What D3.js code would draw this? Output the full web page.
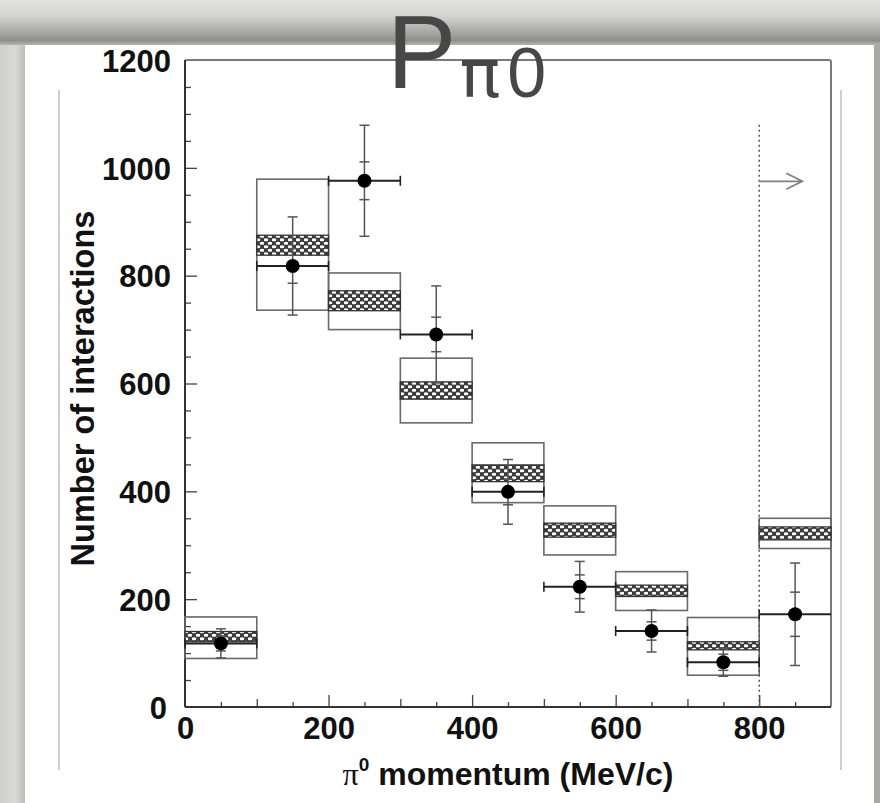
<!DOCTYPE html>
<html>
<head>
<meta charset="utf-8">
<script src="https://cdn.jsdelivr.net/npm/d3@7"></script>
<style>
  html, body { margin: 0; padding: 0; background: #d6d6d2; }
  svg { display: block; }
</style>
</head>
<body>
<svg id="chart" width="880" height="803"></svg>
<script>
// π0 momentum distribution: MC prediction (systematic box + statistical band) vs data
const binLow     = [0, 100, 200, 300, 400, 500, 600, 700, 800];
const binWidth   = 100;
const mcSysLow   = [90, 736, 700, 527, 379, 282, 179, 59, 294];
const mcSysHigh  = [167, 979, 805, 647, 490, 373, 251, 166, 350];
const mcStatLow  = [121, 838, 735, 571, 418, 315, 205, 106, 310];
const mcStatHigh = [140, 875, 772, 603, 449, 341, 226, 121, 334];
const dataValue  = [118, 818, 976, 691, 399, 223, 141, 83, 172];
const dataStat   = [14, 32, 35, 32, 24, 22, 17, 15, 41];
const dataTotal  = [27, 91, 103, 90, 60, 47, 39, 26, 95];
const xTickLabels = [0, 200, 400, 600, 800];
const yTickLabels = [0, 200, 400, 600, 800, 1000, 1200];
const cutMomentum = 800;
const cutLineTop = 1080;
const arrowLevel = 975;
const arrowEnd = 860;

const svg = d3.select("#chart");
const W = 880, H = 803;

// ---------- slide background ----------
const defs = svg.append("defs");
const topGrad = defs.append("linearGradient").attr("id", "topShade")
  .attr("x1", 0).attr("y1", 0).attr("x2", 0).attr("y2", 1);
[[0, "#e2e2de"], [0.35, "#d4d4d0"], [0.7, "#a9a9a6"], [0.9, "#8e8e8c"], [1, "#b5b5b2"]]
  .forEach(([o, c]) => topGrad.append("stop").attr("offset", o).attr("stop-color", c));
const sideGrad = defs.append("linearGradient").attr("id", "sideShade")
  .attr("x1", 0).attr("y1", 0).attr("x2", 1).attr("y2", 0);
[[0, "#cfcfcb"], [0.6, "#dadad6"], [1, "#bdbdb9"]]
  .forEach(([o, c]) => sideGrad.append("stop").attr("offset", o).attr("stop-color", c));

svg.append("rect").attr("width", W).attr("height", H).attr("fill", "#d6d6d2");
svg.append("rect").attr("x", 0).attr("y", 0).attr("width", 25).attr("height", H).attr("fill", "url(#sideShade)");
svg.append("rect").attr("x", 0).attr("y", 0).attr("width", W).attr("height", 45).attr("fill", "url(#topShade)");
svg.append("rect").attr("x", 25).attr("y", 45).attr("width", 849).attr("height", H - 45).attr("fill", "#ffffff");
svg.append("rect").attr("x", 874).attr("y", 45).attr("width", 6).attr("height", H - 45).attr("fill", "#a8a8a5");

// faint page border lines of the embedded figure
[59, 841].forEach(x => svg.append("line")
  .attr("x1", x).attr("x2", x).attr("y1", 90).attr("y2", 770)
  .attr("stroke", "#b0b0b0").attr("stroke-width", 1.2));

// ---------- scales ----------
const x = d3.scaleLinear().domain([0, 900]).range([185, 831]);
const y = d3.scaleLinear().domain([0, 1200]).range([707, 60]);

// hatched fill for the MC statistical band
const pat = defs.append("pattern").attr("id", "hatch")
  .attr("patternUnits", "userSpaceOnUse").attr("width", 8).attr("height", 7);
pat.append("rect").attr("width", 8).attr("height", 7).attr("fill", "#3a3a3a");
pat.append("ellipse").attr("cx", 2).attr("cy", 1.75).attr("rx", 2.4).attr("ry", 1.5).attr("fill", "#ffffff");
pat.append("ellipse").attr("cx", 6).attr("cy", 5.25).attr("rx", 2.4).attr("ry", 1.5).attr("fill", "#ffffff");

const plot = svg.append("g");

// frame
plot.append("rect")
  .attr("x", x(0)).attr("y", y(1200))
  .attr("width", x(900) - x(0)).attr("height", y(0) - y(1200))
  .attr("fill", "none").attr("stroke", "#7a7a7a").attr("stroke-width", 2).attr("rx", 2);

// axes with inward ticks
const fontAxis = "'Liberation Sans', Arial, Helvetica, sans-serif";
function tickAxis(axisFn, scale, values, len, transform) {
  const g = plot.append("g").attr("transform", transform)
    .call(axisFn(scale).tickValues(values).tickSize(-len).tickFormat(""));
  g.select(".domain").remove();
  g.selectAll(".tick line").attr("stroke", "#444").attr("stroke-width", 1.3);
  return g;
}
const x50 = d3.range(50, 900, 100);
const x100 = [100, 300, 500, 700];
const x200 = [200, 400, 600, 800];
tickAxis(d3.axisBottom, x, x50, 5, `translate(0,${y(0)})`);
tickAxis(d3.axisBottom, x, x100, 8, `translate(0,${y(0)})`);
tickAxis(d3.axisBottom, x, x200, 12, `translate(0,${y(0)})`);
const yMinor = d3.range(50, 1200, 50).filter(v => v % 200 !== 0);
tickAxis(d3.axisLeft, y, yMinor, 6, `translate(${x(0)},0)`);
tickAxis(d3.axisLeft, y, [200, 400, 600, 800, 1000], 12, `translate(${x(0)},0)`);

// axis lines (left and bottom darker)
plot.append("line").attr("x1", x(0)).attr("x2", x(900)).attr("y1", y(0)).attr("y2", y(0))
  .attr("stroke", "#333").attr("stroke-width", 2);
plot.append("line").attr("x1", x(0)).attr("x2", x(0)).attr("y1", y(0)).attr("y2", y(1200))
  .attr("stroke", "#333").attr("stroke-width", 2);

// tick labels
const intFmt = d3.format("d");
const xLab = d3.axisBottom(x).tickValues(xTickLabels).tickSize(0).tickPadding(0).tickFormat(intFmt);
const gxl = plot.append("g").attr("transform", `translate(0,${y(0) + 32})`).call(xLab);
gxl.select(".domain").remove();
gxl.selectAll("text").attr("font-family", fontAxis).attr("font-weight", "bold")
  .attr("font-size", 31).attr("fill", "#111").attr("dy", 0);

const yLab = d3.axisLeft(y).tickValues(yTickLabels).tickSize(0).tickPadding(0).tickFormat(intFmt);
const gyl = plot.append("g").attr("transform", `translate(${x(0) - 14},0)`).call(yLab);
gyl.select(".domain").remove();
gyl.selectAll("text").attr("font-family", fontAxis).attr("font-weight", "bold")
  .attr("font-size", 31).attr("fill", "#111").attr("dy", "0.36em");
gyl.selectAll(".tick").filter(d => d === 0).select("text").attr("x", -4);

// axis titles
svg.append("text")
  .attr("transform", `translate(94,${(y(0) + y(1200)) / 2 + 5}) rotate(-90)`)
  .attr("text-anchor", "middle")
  .attr("font-family", fontAxis).attr("font-weight", "bold").attr("font-size", 32.5)
  .attr("fill", "#111").text("Number of interactions");

const xt = svg.append("text")
  .attr("x", (x(0) + x(900)) / 2).attr("y", 785)
  .attr("text-anchor", "middle")
  .attr("font-family", fontAxis).attr("font-weight", "bold").attr("font-size", 32).attr("fill", "#111");
xt.append("tspan").attr("font-family", "'Liberation Serif', 'Times New Roman', serif")
  .attr("font-weight", "normal").text("π");
xt.append("tspan").attr("font-size", 19).attr("dy", -14).text("0");
xt.append("tspan").attr("dy", 14).text(" momentum (MeV/c)");

// ---------- MC prediction ----------
const bins = binLow.map((lo, i) => ({
  lo, hi: lo + binWidth,
  sysLo: mcSysLow[i], sysHi: mcSysHigh[i],
  stLo: mcStatLow[i], stHi: mcStatHigh[i],
  val: dataValue[i], stat: dataStat[i], tot: dataTotal[i]
}));

plot.selectAll("rect.sys").data(bins).join("rect").attr("class", "sys")
  .attr("x", d => x(d.lo)).attr("width", d => x(d.hi) - x(d.lo))
  .attr("y", d => y(d.sysHi)).attr("height", d => y(d.sysLo) - y(d.sysHi))
  .attr("fill", "none").attr("stroke", "#6a6a6a").attr("stroke-width", 1.6);

plot.selectAll("rect.stat").data(bins).join("rect").attr("class", "stat")
  .attr("x", d => x(d.lo)).attr("width", d => x(d.hi) - x(d.lo))
  .attr("y", d => y(d.stHi)).attr("height", d => y(d.stLo) - y(d.stHi))
  .attr("fill", "url(#hatch)").attr("stroke", "#333").attr("stroke-width", 1.3);

// ---------- cut line and arrow ----------
plot.append("line")
  .attr("x1", x(cutMomentum)).attr("x2", x(cutMomentum))
  .attr("y1", y(cutLineTop)).attr("y2", y(0))
  .attr("stroke", "#555").attr("stroke-width", 1.5).attr("stroke-dasharray", "2,3");
const ay = y(arrowLevel), ax1 = x(arrowEnd);
plot.append("path")
  .attr("d", `M${x(cutMomentum)},${ay} L${ax1},${ay} M${ax1 - 16},${ay - 8} L${ax1},${ay} L${ax1 - 16},${ay + 8}`)
  .attr("fill", "none").attr("stroke", "#808080").attr("stroke-width", 1.8);

// ---------- data points ----------
const pts = plot.selectAll("g.pt").data(bins).join("g").attr("class", "pt");
// vertical error bars (total and statistical)
pts.append("line")
  .attr("x1", d => x(d.lo + 50)).attr("x2", d => x(d.lo + 50))
  .attr("y1", d => y(d.val + d.tot)).attr("y2", d => y(d.val - d.tot))
  .attr("stroke", "#555").attr("stroke-width", 1.5);
[d => d.val + d.tot, d => d.val - d.tot, d => d.val + d.stat, d => d.val - d.stat].forEach(f => {
  pts.append("line")
    .attr("x1", d => x(d.lo + 50) - 5).attr("x2", d => x(d.lo + 50) + 5)
    .attr("y1", d => y(f(d))).attr("y2", d => y(f(d)))
    .attr("stroke", "#555").attr("stroke-width", 1.5);
});
// horizontal bin-width bars with end caps
pts.append("line")
  .attr("x1", d => x(d.lo)).attr("x2", d => x(d.hi))
  .attr("y1", d => y(d.val)).attr("y2", d => y(d.val))
  .attr("stroke", "#222").attr("stroke-width", 2);
pts.append("line")
  .attr("x1", d => x(d.lo)).attr("x2", d => x(d.lo))
  .attr("y1", d => y(d.val) - 5).attr("y2", d => y(d.val) + 5)
  .attr("stroke", "#222").attr("stroke-width", 1.6);
pts.filter(d => d.hi < 900).append("line")
  .attr("x1", d => x(d.hi)).attr("x2", d => x(d.hi))
  .attr("y1", d => y(d.val) - 5).attr("y2", d => y(d.val) + 5)
  .attr("stroke", "#222").attr("stroke-width", 1.6);
pts.append("circle")
  .attr("cx", d => x(d.lo + 50)).attr("cy", d => y(d.val)).attr("r", 7)
  .attr("fill", "#000");

// ---------- title ----------
const title = svg.append("text")
  .attr("x", 387).attr("y", 88)
  .attr("font-family", "'Liberation Sans', Helvetica, Arial, sans-serif")
  .attr("fill", "#474747");
title.append("tspan").attr("font-size", 104).text("P");
title.append("tspan").attr("font-size", 68).attr("dy", 9).attr("dx", 3)
  .attr("font-family", "'DejaVu Sans', sans-serif").text("π");
title.append("tspan").attr("font-size", 70).attr("dx", 7).text("0");
</script>
</body>
</html>
